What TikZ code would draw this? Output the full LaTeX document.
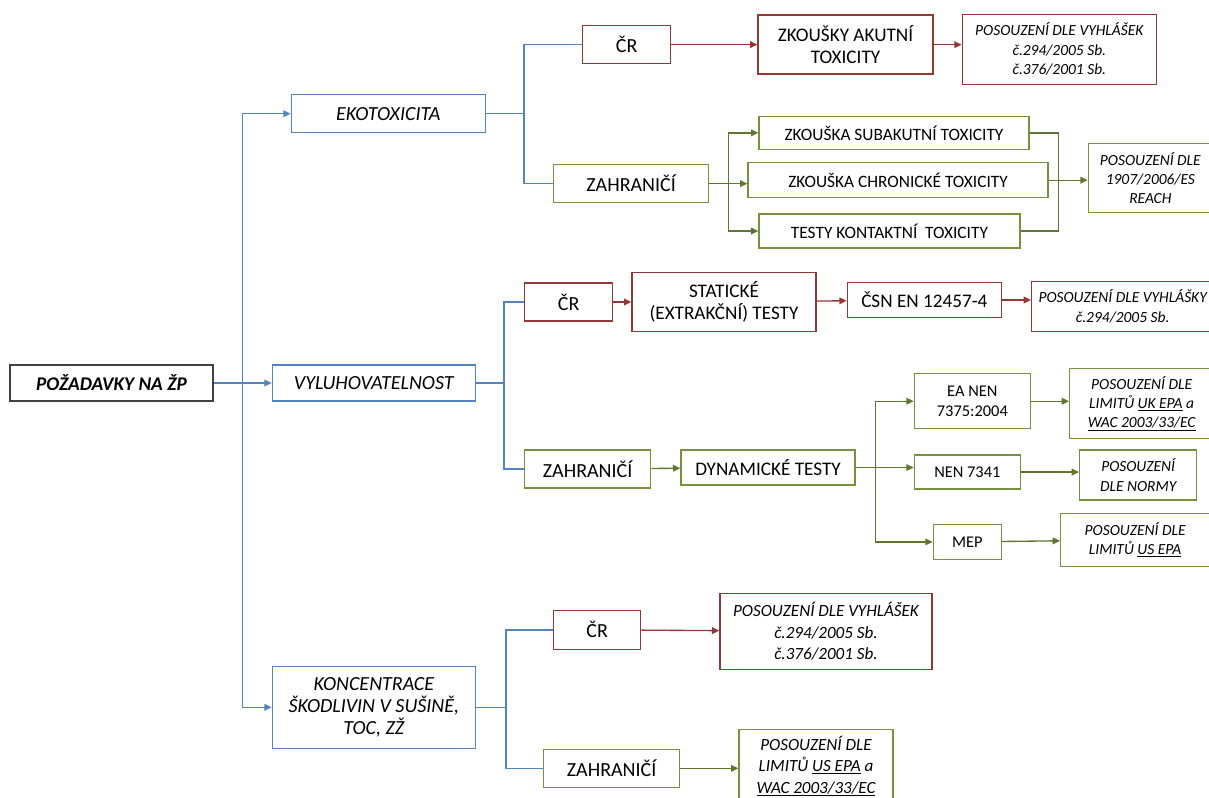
\documentclass[tikz,border=0pt]{standalone}
\usepackage{fontspec}
\setmainfont{Carlito}
\usepackage{tikz}
\usetikzlibrary{arrows.meta, positioning}
\definecolor{lineblue}{RGB}{84, 132, 192}
\definecolor{boxred}{RGB}{149, 55, 53}
\definecolor{boxgreen}{RGB}{118, 146, 60}
\definecolor{linegreen}{RGB}{95, 117, 48}
\definecolor{rootgray}{RGB}{64, 64, 64}

\begin{document}
\begin{tikzpicture}[
    node distance=20pt and 20pt,
    rootbox/.style={draw=rootgray, line width=1pt, font=\fontsize{14.5}{17}\selectfont\bfseries\itshape, align=center, inner sep=2pt},
    bluebox/.style={draw=lineblue, line width=1pt, font=\fontsize{15}{16.5}\selectfont\itshape, align=center, inner sep=2pt},
    redbox/.style={draw=boxred, line width=1pt, font=\fontsize{14.4}{16.5}\selectfont, align=center, inner sep=2pt},
    greenbox/.style={draw=boxgreen, line width=1pt, font=\fontsize{14.4}{16.5}\selectfont, align=center, inner sep=2pt},
    branchbox/.style={font=\fontsize{15}{18}\selectfont},
    testbox/.style={font=\fontsize{13}{16}\selectfont},
    normbox/.style={font=\fontsize{12.3}{15.5}\selectfont},
    notebox/.style={font=\fontsize{11.6}{14.5}\selectfont\itshape},
    bigbox/.style={font=\fontsize{12.8}{16}\selectfont\itshape},
    bluearrow/.style={-{Triangle[length=5.5pt, width=5pt]}, lineblue, line width=1pt},
    blueline/.style={lineblue, line width=1pt},
    redarrow/.style={-{Triangle[length=5.5pt, width=5pt]}, boxred, line width=1pt},
    greenarrow/.style={-{Triangle[length=5.5pt, width=5pt]}, linegreen, line width=1pt},
    greenline/.style={linegreen, line width=1pt}
]
\useasboundingbox (-83.625pt,-311.25pt) rectangle (823.125pt,287.25pt);

% Root and main branches
\node (root) [rootbox, minimum width=152.25pt, minimum height=27pt] {POŽADAVKY NA ŽP};
\node (vyl) [bluebox, right=43.5pt of root, minimum width=152.25pt, minimum height=27pt] {VYLUHOVATELNOST};
\node (eko) [bluebox, above=173.25pt of vyl, xshift=10.875pt, minimum width=145.5pt, minimum height=28.5pt] {EKOTOXICITA};
\node (konc) [bluebox, below=198pt of vyl, minimum width=152.25pt, minimum height=61.5pt] {KONCENTRACE\\ŠKODLIVIN V SUŠINĚ,\\TOC, ZŽ};

% Ekotoxicita
\node (eko_cr) [redbox, branchbox, right=72pt of eko, yshift=51.75pt, minimum width=66pt, minimum height=28.5pt] {ČR};
\node (eko_za) [greenbox, branchbox, right=50.25pt of eko, yshift=-52.5pt, minimum width=116.25pt, minimum height=28.5pt] {ZAHRANIČÍ};
\node (akut) [redbox, right=64.5pt of eko_cr, minimum width=131.25pt, minimum height=44.25pt] {ZKOUŠKY AKUTNÍ\\TOXICITY};
\node (eko_pos) [redbox, notebox, right=21pt of akut, yshift=-3.4pt, minimum width=145.5pt, minimum height=52.5pt] {POSOUZENÍ DLE VYHLÁŠEK\\č.294/2005 Sb.\\č.376/2001 Sb.};
\node (chron) [greenbox, testbox, right=28.5pt of eko_za, yshift=2.6pt, minimum width=225pt, minimum height=26.25pt] {ZKOUŠKA CHRONICKÉ TOXICITY};
\node (subak) [greenbox, testbox, above=9pt of chron, xshift=-3pt, minimum width=202.5pt, minimum height=24.75pt] {ZKOUŠKA SUBAKUTNÍ TOXICITY};
\node (kontakt) [greenbox, testbox, below=11.25pt of chron, xshift=-6.4pt, minimum width=195.75pt, minimum height=25.5pt] {TESTY KONTAKTNÍ \ TOXICITY};
\node (reach) [greenbox, notebox, right=29.25pt of chron, yshift=1.5pt, minimum width=93pt, minimum height=51.75pt] {POSOUZENÍ DLE\\1907/2006/ES\\REACH};

% Vyluhovatelnost
\node (vyl_cr) [redbox, branchbox, right=36pt of vyl, yshift=60.75pt, minimum width=66pt, minimum height=28.5pt] {ČR};
\node (vyl_za) [greenbox, branchbox, right=36pt of vyl, yshift=-64.5pt, minimum width=94.5pt, minimum height=28.5pt] {ZAHRANIČÍ};
\node (stat) [redbox, right=13.5pt of vyl_cr, minimum width=138pt, minimum height=44.25pt] {STATICKÉ\\(EXTRAKČNÍ) TESTY};
\node (csn) [redbox, right=22.5pt of stat, yshift=1.5pt, minimum width=115.5pt, minimum height=26.25pt] {ČSN EN 12457-4};
\node (vyl_pos) [redbox, notebox, right=21.75pt of csn, yshift=-4.9pt, minimum width=136.5pt, minimum height=37.5pt] {POSOUZENÍ DLE VYHLÁŠKY\\č.294/2005 Sb.};
\node (dyn) [greenbox, right=21.75pt of vyl_za, yshift=1.1pt, minimum width=130.5pt, minimum height=26.25pt] {DYNAMICKÉ TESTY};
\node (nen) [greenbox, normbox, right=43.5pt of dyn, yshift=-3.4pt, minimum width=79.5pt, minimum height=25.5pt] {NEN 7341};
\node (eanen) [greenbox, normbox, above=18.75pt of nen, xshift=3.75pt, minimum width=87pt, minimum height=41.25pt] {EA NEN\\7375:2004};
\node (mep) [greenbox, normbox, below=25.5pt of nen, minimum width=51pt, minimum height=26.25pt] {MEP};
\node (ukepa) [greenbox, notebox, right=28.5pt of eanen, yshift=-1.9pt, minimum width=108pt, minimum height=52.5pt] {POSOUZENÍ DLE\\LIMITŮ \underline{UK EPA} a\\\underline{WAC 2003/33/EC}};
\node (norma) [greenbox, notebox, right=43.5pt of nen, yshift=-2.25pt, minimum width=87.75pt, minimum height=37.5pt] {POSOUZENÍ\\DLE NORMY};
\node (usepa) [greenbox, notebox, right=43.5pt of mep, yshift=1.5pt, minimum width=111.75pt, minimum height=39.75pt] {POSOUZENÍ DLE\\LIMITŮ \underline{US EPA}};

% Koncentrace
\node (konc_cr) [redbox, branchbox, right=57.75pt of konc, yshift=58.1pt, minimum width=65.25pt, minimum height=29.25pt] {ČR};
\node (konc_za) [greenbox, branchbox, right=50.25pt of konc, yshift=-45.75pt, minimum width=102pt, minimum height=28.5pt] {ZAHRANIČÍ};
\node (konc_pos) [redbox, bigbox, right=58.5pt of konc_cr, yshift=-1.1pt, minimum width=159pt, minimum height=57pt] {POSOUZENÍ DLE VYHLÁŠEK\\č.294/2005 Sb.\\č.376/2001 Sb.};
\node (konc_lim) [greenbox, bigbox, right=43.5pt of konc_za, yshift=1.5pt, minimum width=115.5pt, minimum height=55.5pt] {POSOUZENÍ DLE\\LIMITŮ \underline{US EPA} a\\\underline{WAC 2003/33/EC}};

% Branch points
\coordinate (trunk) at ([xshift=21.75pt]root.east);
\coordinate (ekob) at ([xshift=28.5pt]eko.east);
\coordinate (vylb) at ([xshift=21pt]vyl.east);
\coordinate (koncb) at ([xshift=22.5pt]konc.east);
\coordinate (zab) at ([xshift=14.25pt]eko_za.east);
\coordinate (merge) at ([xshift=7.5pt]chron.east);
\coordinate (dynb) at ([xshift=15pt]dyn.east);

% Arrows
\draw [bluearrow] (root) -- (vyl);
\draw [bluearrow] (trunk) |- (eko);
\draw [bluearrow] (trunk) |- (konc);

\draw [blueline] (eko) -- (ekob) |- (eko_cr);
\draw [blueline] (ekob) |- (eko_za);
\draw [blueline] (vyl) -- (vylb) |- (vyl_cr);
\draw [blueline] (vylb) |- (vyl_za);
\draw [blueline] (konc) -- (koncb) |- (konc_cr);
\draw [blueline] (koncb) |- (konc_za);

\draw [redarrow] (eko_cr) -- (akut);
\draw [redarrow] (akut.east) -- (akut.east -| eko_pos.west);
\draw [greenarrow] (eko_za.east) -- (eko_za.east -| chron.west);
\draw [greenarrow] (zab) |- (subak);
\draw [greenarrow] (zab) |- (kontakt);
\draw [greenline] (subak) -| (merge) |- (kontakt);
\draw [greenarrow] (chron.east) -- (chron.east -| reach.west);

\draw [redarrow] (vyl_cr) -- (stat);
\draw [redarrow] (stat) -- (csn);
\draw [redarrow] (csn.east) -- (csn.east -| vyl_pos.west);
\draw [greenarrow] (vyl_za) -- (dyn);
\draw [greenarrow] (dyn.east) -- (dyn.east -| nen.west);
\draw [greenarrow] (dynb) |- (eanen);
\draw [greenarrow] (dynb) |- (mep);
\draw [greenarrow] (eanen.east) -- (eanen.east -| ukepa.west);
\draw [greenarrow] (nen.east) -- (nen.east -| norma.west);
\draw [greenarrow] (mep) -- (usepa);

\draw [redarrow] (konc_cr) -- (konc_pos);
\draw [greenarrow] (konc_za.east) -- (konc_za.east -| konc_lim.west);

\end{tikzpicture}
\end{document}
